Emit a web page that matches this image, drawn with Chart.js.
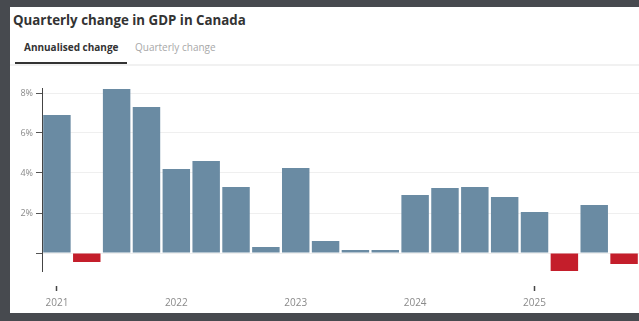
<!DOCTYPE html>
<html>
<head>
<meta charset="utf-8">
<script src="https://cdn.jsdelivr.net/npm/chart.js@4"></script>
<style>
  html, body { margin: 0; padding: 0; }
  body { width: 639px; height: 321px; background: #474a4f; overflow: hidden; position: relative; font-family: 'Open Sans', sans-serif; }
  #card { position: absolute; left: 10px; top: 7px; width: 629px; height: 306px; background: #fff; }
  .title { position: absolute; left: 3px; top: 4px; font-size: 13.3px; font-weight: 700; color: #333; white-space: nowrap; }
  .tabs { position: absolute; left: 0; top: 32px; width: 629px; height: 25px; border-bottom: 2px solid #f1f1f1; }
  .tab { position: absolute; top: 1px; font-size: 10px; white-space: nowrap; }
  .tab.active { left: 14px; color: #333; font-weight: 700; }
  .tab.idle { left: 125px; color: #a8a8a8; }
  .tab-line { position: absolute; left: 5px; top: 23px; width: 112px; height: 2px; background: #333; }
  #wrap { position: absolute; left: 0; top: 63px; width: 629px; height: 243px; }
</style>
</head>
<body>
<div id="card">
  <div class="title">Quarterly change in GDP in Canada</div>
  <div class="tabs">
    <span class="tab active">Annualised change</span>
    <span class="tab idle">Quarterly change</span>
    <div class="tab-line"></div>
  </div>
  <div id="wrap"><canvas id="gdpChart" width="629" height="243"></canvas></div>
</div>
<script>
const quarters = [
  'Q1 2021', 'Q2 2021', 'Q3 2021', 'Q4 2021',
  'Q1 2022', 'Q2 2022', 'Q3 2022', 'Q4 2022',
  'Q1 2023', 'Q2 2023', 'Q3 2023', 'Q4 2023',
  'Q1 2024', 'Q2 2024', 'Q3 2024', 'Q4 2024',
  'Q1 2025', 'Q2 2025', 'Q3 2025', 'Q4 2025'
];
const annualisedChange = [
  6.9, -0.45, 8.2, 7.3,
  4.2, 4.6, 3.3, 0.3,
  4.25, 0.6, 0.15, 0.15,
  2.9, 3.25, 3.3, 2.8,
  2.05, -0.93, 2.4, -0.55
];
const percentTicks = [0, 2, 4, 6, 8];

const POS = '#6a8ba3';
const NEG = '#c41e2b';
const AXIS_FONT = { family: "'Open Sans', sans-serif", size: 10 };

// year label only on the first quarter of each year
function yearLabel(i) {
  const q = quarters[i];
  return q && q.startsWith('Q1') ? q.slice(3) : null;
}

new Chart(document.getElementById('gdpChart'), {
  type: 'bar',
  data: {
    labels: quarters,
    datasets: [{
      data: annualisedChange,
      backgroundColor: annualisedChange.map(v => v < 0 ? NEG : POS),
      barPercentage: 1,
      categoryPercentage: 0.92,
      borderWidth: 0
    }]
  },
  options: {
    responsive: false,
    animation: false,
    layout: { padding: { top: 18, left: 0, right: 0, bottom: 0 } },
    plugins: { legend: { display: false }, tooltip: { enabled: false } },
    scales: {
      x: {
        afterFit: s => { s.height = 42; },
        // tick marks sit a little below the plot, just over the year labels
        grid: {
          display: true,
          drawOnChartArea: false,
          offset: false,
          tickLength: 20,
          tickWidth: 1.5,
          tickBorderDash: [0, 15, 5, 10],
          tickColor: ctx => yearLabel(ctx.index) ? '#444' : 'rgba(0,0,0,0)'
        },
        border: { display: false },
        ticks: {
          color: '#8a8a8a',
          font: AXIS_FONT,
          padding: 6,
          autoSkip: false,
          maxRotation: 0,
          callback: (v, i) => yearLabel(i)
        }
      },
      y: {
        min: -0.9,
        max: 8.25,
        afterBuildTicks: s => { s.ticks = percentTicks.map(v => ({ value: v })); },
        afterFit: s => { s.width = 32; },
        grid: { color: '#efefef', tickColor: '#555', tickLength: 6 },
        border: { color: '#444', width: 1 },
        ticks: {
          color: '#8a8a8a',
          font: { family: "'Open Sans', sans-serif", size: 9 },
          padding: 3,
          callback: v => v === 0 ? '' : v + '%'
        }
      }
    }
  }
});
</script>
</body>
</html>
